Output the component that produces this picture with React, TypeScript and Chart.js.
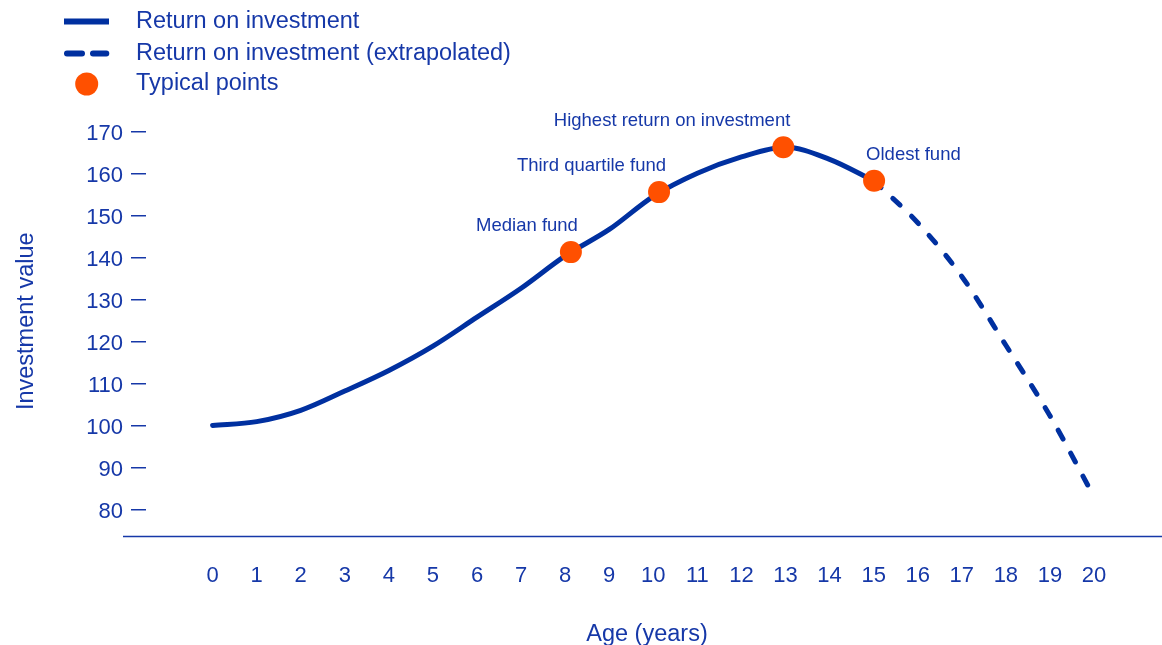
import React, { useEffect, useRef } from 'react';
import { Chart, registerables } from 'chart.js';

Chart.register(...registerables);

// ---------- data ----------
const xTickValues = [0, 1, 2, 3, 4, 5, 6, 7, 8, 9, 10, 11, 12, 13, 14, 15, 16, 17, 18, 19, 20];
const yTickValues = [80, 90, 100, 110, 120, 130, 140, 150, 160, 170];

const solidAges = [0, 1, 2, 3, 4, 5, 6, 7, 8, 9, 10, 11, 12, 13, 14, 15];
const solidValues = [100, 100.9, 103.6, 108.2, 113.1, 118.9, 125.8, 132.7, 140.4, 146.7, 154.6, 160.1, 164.0, 166.3, 163.4, 158.3];

const extrapolatedAges = [15, 16, 17, 18, 19, 20];
const extrapolatedValues = [158.3, 148.3, 135.5, 119.1, 102.3, 83.0];

const typicalAges = [8.13, 10.13, 12.95, 15.01];
const typicalValues = [141.3, 155.6, 166.3, 158.3];
const typicalLabels = ['Median fund', 'Third quartile fund', 'Highest return on investment', 'Oldest fund'];

const seriesNames = ['Return on investment', 'Return on investment (extrapolated)', 'Typical points'];
const xAxisTitle = 'Age (years)';
const yAxisTitle = 'Investment value';

// ---------- styles ----------
const TEXT = '#1638a8';
const LINE = '#0030a0';
const ORANGE = '#ff5000';
const FONT = "'Liberation Sans', Arial, Helvetica, sans-serif";

const decorPlugin = {
  id: 'decor',
  afterDatasetsDraw(chart: any) {
    const ctx = chart.ctx;
    const meta = chart.getDatasetMeta(2);
    ctx.save();
    ctx.font = `18.5px ${FONT}`;
    ctx.fillStyle = TEXT;
    ctx.textBaseline = 'alphabetic';
    meta.data.forEach((el: any, i: number) => {
      const last = i === meta.data.length - 1;
      ctx.textAlign = last ? 'left' : 'right';
      ctx.fillText(typicalLabels[i], el.x + (last ? -8 : 7), el.y - 21);
    });
    ctx.restore();
  },
  afterDraw(chart: any) {
    const ctx = chart.ctx;
    const area = chart.chartArea;
    const yScale = chart.scales.y;
    ctx.save();
    // x axis line (extends under the tick-label column)
    ctx.strokeStyle = TEXT;
    ctx.lineWidth = 1.5;
    ctx.beginPath();
    ctx.moveTo(yScale.right - 23, area.bottom + 0.5);
    ctx.lineTo(chart.width, area.bottom + 0.5);
    ctx.stroke();

    // legend
    const ds = chart.data.datasets;
    const rows = [21.5, 53.5, 84];
    ctx.lineCap = 'butt';
    ctx.strokeStyle = ds[0].borderColor;
    ctx.lineWidth = 6;
    ctx.beginPath();
    ctx.moveTo(64, rows[0]);
    ctx.lineTo(109, rows[0]);
    ctx.stroke();

    ctx.strokeStyle = ds[1].borderColor;
    ctx.lineCap = 'round';
    ctx.setLineDash([15, 11]);
    ctx.beginPath();
    ctx.moveTo(67, rows[1]);
    ctx.lineTo(106.3, rows[1]);
    ctx.stroke();
    ctx.setLineDash([]);

    ctx.fillStyle = ds[2].pointBackgroundColor;
    ctx.beginPath();
    ctx.arc(86.7, rows[2], 11.5, 0, Math.PI * 2);
    ctx.fill();

    ctx.font = `23.5px ${FONT}`;
    ctx.fillStyle = TEXT;
    ctx.textAlign = 'left';
    ctx.textBaseline = 'middle';
    [ds[0], ds[1], ds[2]].forEach((d: any, i: number) => {
      ctx.fillText(d.label, 136, rows[i]);
    });
    ctx.restore();
  },
};

export default function App() {
  const ref = useRef<HTMLCanvasElement | null>(null);

  useEffect(() => {
    if (!ref.current) return;
    Chart.defaults.font.family = FONT;
    Chart.defaults.color = TEXT;

    const chart = new Chart(ref.current, {
      type: 'line',
      data: {
        datasets: [
          {
            label: seriesNames[0],
            data: solidAges.map((x, i) => ({ x, y: solidValues[i] })),
            borderColor: LINE,
            borderWidth: 5,
            borderCapStyle: 'round',
            borderJoinStyle: 'round',
            pointRadius: 0,
            cubicInterpolationMode: 'monotone',
            fill: false,
            order: 1,
          },
          {
            label: seriesNames[1],
            data: extrapolatedAges.map((x, i) => ({ x, y: extrapolatedValues[i] })),
            borderColor: LINE,
            borderWidth: 5,
            borderDash: [10, 16],
            borderCapStyle: 'round',
            pointRadius: 0,
            cubicInterpolationMode: 'monotone',
            fill: false,
            order: 2,
          },
          {
            label: seriesNames[2],
            data: typicalAges.map((x, i) => ({ x, y: typicalValues[i] })),
            showLine: false,
            pointRadius: 11,
            pointHoverRadius: 11,
            pointBackgroundColor: ORANGE,
            pointBorderWidth: 0,
            borderColor: ORANGE,
            order: 0,
          },
        ],
      },
      options: {
        animation: false,
        responsive: false,
        devicePixelRatio: 1,
        layout: { padding: { top: 106.5, right: 14, left: 0, bottom: 0 } },
        plugins: {
          legend: { display: false },
          tooltip: { enabled: false },
        },
        scales: {
          x: {
            type: 'linear',
            min: -1.511,
            max: 21.225,
            afterBuildTicks: (scale: any) => {
              scale.ticks = xTickValues.map((v) => ({ value: v }));
            },
            ticks: {
              autoSkip: false,
              maxRotation: 0,
              padding: 26.8,
              color: TEXT,
              font: { size: 22, family: FONT },
              callback: (v: any) => String(v),
            },
            grid: { display: false, drawTicks: false, tickLength: 0 },
            border: { display: false },
            title: {
              display: true,
              text: xAxisTitle,
              color: TEXT,
              font: { size: 23.5, family: FONT, lineHeight: 1.2 },
              padding: { top: 4.9, bottom: 10.9 },
            },
          },
          y: {
            type: 'linear',
            min: 73.64,
            max: 176.0,
            afterBuildTicks: (scale: any) => {
              scale.ticks = yTickValues.map((v) => ({ value: v }));
            },
            ticks: {
              padding: 8,
              labelOffset: 2.5,
              color: TEXT,
              font: { size: 22, family: FONT },
              callback: (v: any) => String(v),
            },
            grid: {
              display: true,
              drawOnChartArea: false,
              drawTicks: true,
              tickLength: 15,
              tickColor: TEXT,
              tickWidth: 1.5,
              color: TEXT,
              lineWidth: 1.5,
            },
            border: { display: false },
            title: {
              display: true,
              text: yAxisTitle,
              color: TEXT,
              font: { size: 23.5, family: FONT, lineHeight: 1.2 },
              padding: { top: 12.4, bottom: 37.7 },
            },
          },
        },
      } as any,
      plugins: [decorPlugin],
    });

    return () => chart.destroy();
  }, []);

  return (
    <div
      style={{
        position: 'absolute',
        left: 0,
        top: 0,
        width: 1162,
        height: 645,
        overflow: 'hidden',
        background: '#ffffff',
      }}
    >
      <canvas ref={ref} width={1162} height={660} style={{ display: 'block' }} />
    </div>
  );
}
